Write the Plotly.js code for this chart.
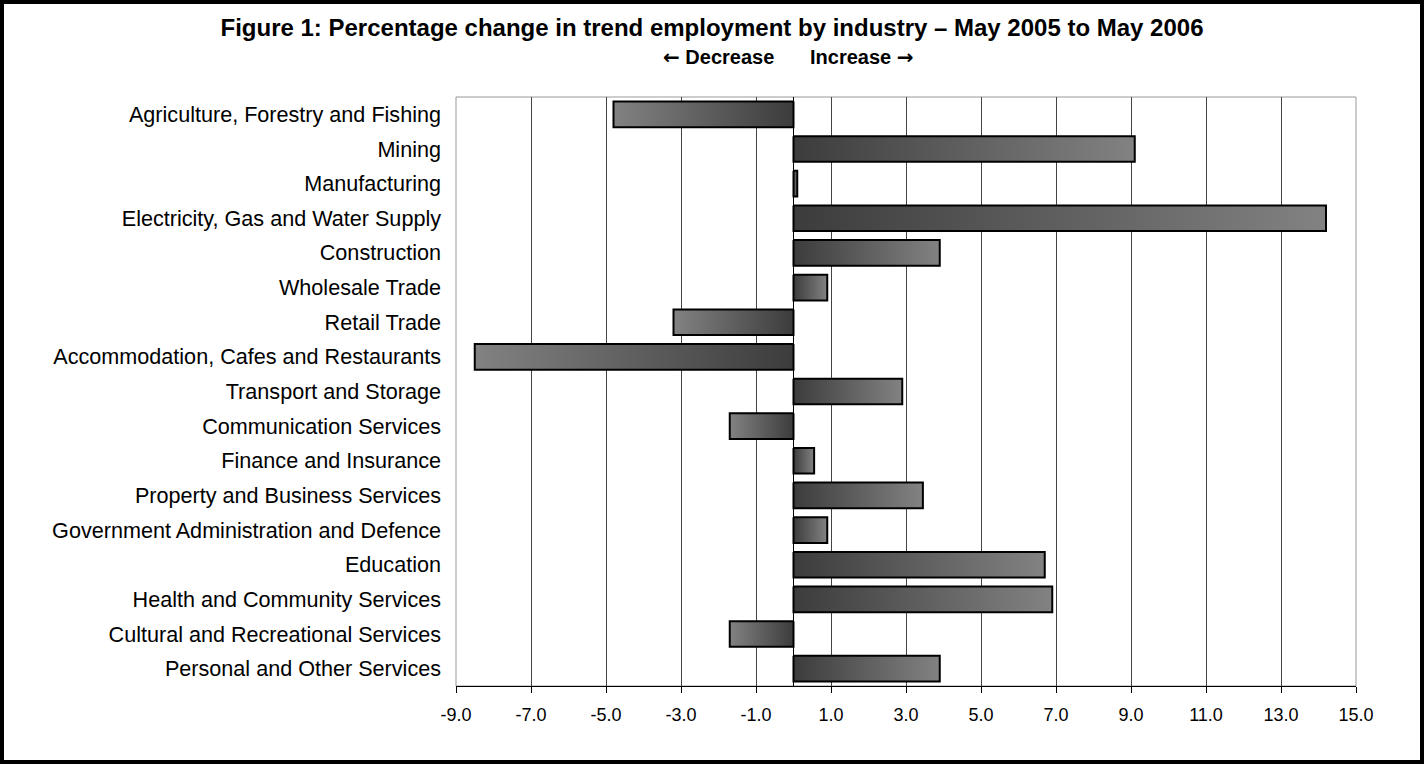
<!DOCTYPE html>
<html>
<head>
<meta charset="utf-8">
<script src="https://cdn.plot.ly/plotly-3.0.1.min.js"></script>
<style>
  html, body { margin: 0; padding: 0; background: #fff; }
  #frame { width: 1416px; height: 756px; border: 4px solid #000; }
</style>
</head>
<body>
<div id="frame"></div>
<script>
// ---- data ----
const categories = [
  "Agriculture, Forestry and Fishing",
  "Mining",
  "Manufacturing",
  "Electricity, Gas and Water Supply",
  "Construction",
  "Wholesale Trade",
  "Retail Trade",
  "Accommodation, Cafes and Restaurants",
  "Transport and Storage",
  "Communication Services",
  "Finance and Insurance",
  "Property and Business Services",
  "Government Administration and Defence",
  "Education",
  "Health and Community Services",
  "Cultural and Recreational Services",
  "Personal and Other Services"
];
const pctChange = [-4.8, 9.1, 0.1, 14.2, 3.9, 0.9, -3.2, -8.5, 2.9, -1.7, 0.55, 3.45, 0.9, 6.7, 6.9, -1.7, 3.9];
const xTickValues = [-9, -7, -5, -3, -1, 1, 3, 5, 7, 9, 11, 13, 15];
const xTickLabels = ["-9.0", "-7.0", "-5.0", "-3.0", "-1.0", "1.0", "3.0", "5.0", "7.0", "9.0", "11.0", "13.0", "15.0"];
const titleText = "Figure 1: Percentage change in trend employment by industry \u2013 May 2005 to May 2006";
const decreaseText = "Decrease";
const increaseText = "Increase";
const leftArrow = "\u2190";
const rightArrow = "\u2192";

// ---- styling ----
const FONT = "Liberation Sans, Arial, Helvetica, sans-serif";
const ARROW_SPAN = '<span style="font-family:DejaVu Sans">';
const HALF = 0.37;
const DARK = "#3c3c3c";
const LIGHT = "#828282";
const xMin = xTickValues[0], xMax = xTickValues[xTickValues.length - 1];
const yRange = [categories.length - 0.5, -0.5];

const traces = pctChange.map((v, i) => ({
  type: "scatter",
  mode: "lines",
  x: [0, v, v, 0, 0],
  y: [i - HALF, i - HALF, i + HALF, i + HALF, i - HALF],
  fill: "toself",
  fillgradient: {
    type: "horizontal",
    colorscale: v >= 0 ? [[0, DARK], [1, LIGHT]] : [[0, LIGHT], [1, DARK]]
  },
  line: { color: "#000", width: 2 },
  hoverinfo: "skip",
  showlegend: false
}));

const boundaries = categories.map((c, i) => i - 0.5).concat([categories.length - 0.5]);
const subY = 1 + (93 - 53) / 589;

const layout = {
  width: 1416,
  height: 756,
  margin: { l: 452, r: 64, t: 93, b: 74 },
  paper_bgcolor: "#fff",
  plot_bgcolor: "#fff",
  font: { family: FONT, color: "#000" },
  title: {
    text: "<b>" + titleText + "</b>",
    font: { family: FONT, size: 24, color: "#000" },
    xref: "container", x: 0.5, xanchor: "center",
    yref: "container", y: 1 - 24 / 756, yanchor: "middle"
  },
  xaxis: {
    range: [xMin, xMax],
    tickmode: "array",
    tickvals: xTickValues,
    ticktext: xTickLabels,
    ticks: "outside", ticklen: 6, tickcolor: "#000", tickwidth: 1,
    ticklabelstandoff: 6,
    tickfont: { family: FONT, size: 18, color: "#000" },
    showgrid: true, gridcolor: "#444", gridwidth: 1,
    zeroline: true, zerolinecolor: "#000", zerolinewidth: 1,
    showline: true, linecolor: "#000", linewidth: 1,
    fixedrange: true
  },
  yaxis: {
    range: yRange,
    tickmode: "array",
    tickvals: categories.map((c, i) => i),
    ticktext: categories,
    ticks: "", showgrid: false, zeroline: false, showline: false,
    ticklabelstandoff: 14,
    tickfont: { family: FONT, size: 21.6, color: "#000" },
    fixedrange: true
  },
  yaxis2: {
    overlaying: "y",
    anchor: "free",
    position: (0 - xMin) / (xMax - xMin),
    side: "left",
    range: yRange,
    tickmode: "array",
    tickvals: boundaries,
    ticks: "outside", ticklen: 6, tickcolor: "#000", tickwidth: 1,
    showticklabels: false, showgrid: false, zeroline: false,
    showline: true, linecolor: "#000", linewidth: 1,
    fixedrange: true
  },
  shapes: [{
    type: "rect", xref: "paper", yref: "paper", x0: 0, x1: 1, y0: 0, y1: 1,
    line: { color: "#999", width: 1 }, layer: "below"
  }],
  annotations: [
    { text: "<b>" + ARROW_SPAN + leftArrow + "</span> " + decreaseText + "</b>",
      xref: "x", x: 0, xanchor: "right", xshift: -18,
      yref: "paper", y: subY, yanchor: "middle", showarrow: false,
      font: { family: FONT, size: 20, color: "#000" } },
    { text: "<b>" + increaseText + " " + ARROW_SPAN + rightArrow + "</span></b>",
      xref: "x", x: 0, xanchor: "left", xshift: 14,
      yref: "paper", y: subY, yanchor: "middle", showarrow: false,
      font: { family: FONT, size: 20, color: "#000" } }
  ]
};

Plotly.newPlot("frame", traces, layout, { displayModeBar: false, staticPlot: true });
</script>
</body>
</html>
